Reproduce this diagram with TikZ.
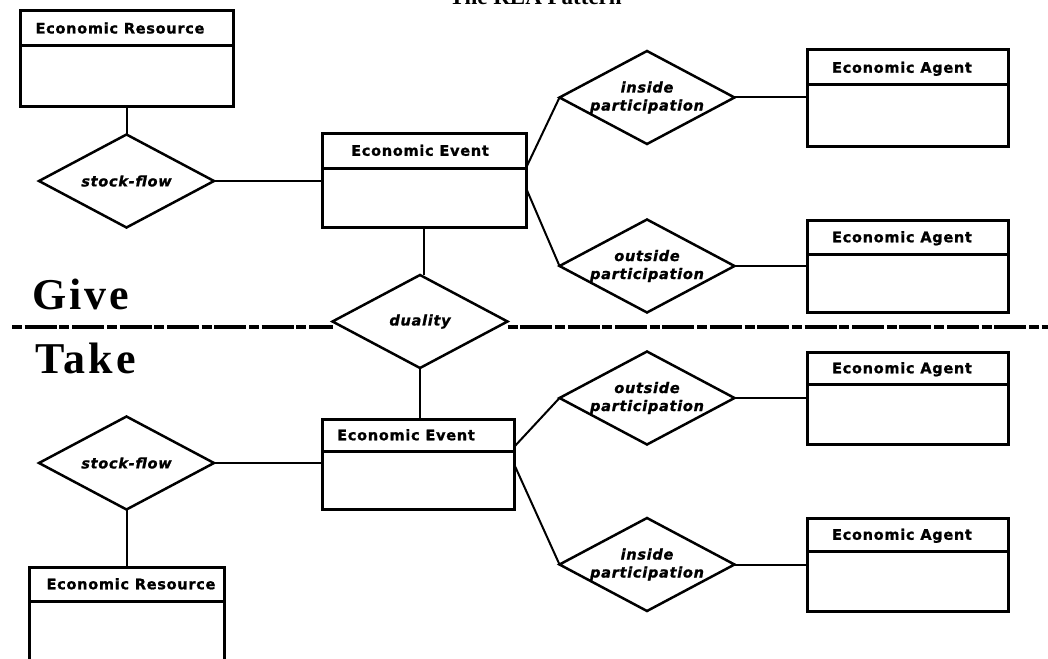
\documentclass[tikz,border=0pt]{standalone}
\usepackage{fontspec}
\setmainfont{Liberation Serif}
\newfontfamily\erfont[LetterSpace=5,
  BoldFeatures={FakeBold=1.2}, BoldItalicFeatures={FakeBold=1.2}]{DejaVu Sans}
\newfontfamily\sidefont[LetterSpace=7]{Liberation Serif}
\usetikzlibrary{shapes.geometric}

% entity box: name, left, top, right, bottom, divider y, label x, label
\newcommand\erbox[8]{%
  \node[entity, minimum width={(#4-#2)*1pt}, minimum height={(#5-#3)*1pt}]
    (#1) at ({(#2+#4)/2},{(#3+#5)/2}) {};
  \draw[entity line] (#2,#6) -- (#4,#6);
  \node[boxlabel] (#1-label) at (#7,{(#3+#6)/2}) {#8};
}

\tikzset{
  entity line/.style={line width=3pt},
  entity/.style={draw, rectangle, line width=3pt, inner sep=0pt, outer sep=0pt},
  relation/.style={draw, diamond, line width=2.5pt, inner sep=0pt, outer sep=0pt,
    aspect=1.88, minimum width=175pt, minimum height=93pt},
  link/.style={line width=2pt},
  boxlabel/.style={font=\erfont\bfseries\fontsize{14.5}{17}\selectfont,
    inner sep=0pt, text height=10.5pt, text depth=0pt},
  rellabel/.style={font=\erfont\bfseries\itshape\fontsize{14.5}{18}\selectfont,
    align=center, inner sep=0pt},
  divider/.style={line width=4.7pt, dash pattern=on 10pt off 2.7pt on 32pt off 2.7pt},
  side/.style={font=\sidefont\bfseries\fontsize{44}{48}\selectfont, inner sep=0pt, anchor=base west},
}

\begin{document}
\begin{tikzpicture}[x=1pt, y=-1pt]
\useasboundingbox (0,0) rectangle (1048,658);
\clip (0,0) rectangle (1048,658);

% title, running off the top edge
\node[font=\bfseries\fontsize{23}{26}\selectfont, inner sep=0pt, anchor=base] (title)
  at (535.5,4.5) {The REA Pattern};

% ---------- give side ----------
\erbox{resTop}{20}{10.7}{233}{107}{45.7}{120}{Economic Resource}
\erbox{evTop}{322}{133}{526}{227}{168}{420}{Economic Event}
\erbox{agA}{807}{50}{1008}{146}{85}{902}{Economic Agent}
\erbox{agB}{807}{220}{1008}{312}{254}{902}{Economic Agent}

\node[relation, label={[rellabel]center:stock-flow}] (sfTop) at (126.5,181) {};
\node[relation, label={[rellabel]center:{inside\\participation}}] (inTop) at (647,97.5) {};
\node[relation, label={[rellabel]center:{outside\\participation}}] (outTop) at (647,266) {};

% ---------- duality ----------
\node[relation, label={[rellabel]center:duality}] (duality) at (420,321.5) {};

% ---------- take side ----------
\erbox{evBot}{322}{419}{514}{509}{451}{406}{Economic Event}
\erbox{resBot}{29}{567}{224}{690}{601}{131}{Economic Resource}
\erbox{agC}{807}{352}{1008}{444}{384}{902}{Economic Agent}
\erbox{agD}{807}{518}{1008}{611}{551}{902}{Economic Agent}

\node[relation, label={[rellabel]center:stock-flow}] (sfBot) at (126.5,463) {};
\node[relation, label={[rellabel]center:{outside\\participation}}] (outBot) at (647,398) {};
\node[relation, label={[rellabel]center:{inside\\participation}}] (inBot) at (647,564.5) {};

% give / take separator
\coordinate (sepL) at (12,327);
\coordinate (sepR) at (1048,327);
\draw[divider] (sepL) -- (sepL -| duality.west);
\draw[divider] (sepR -| duality.east) -- (sepR);
\node[side] (give) at (32,309) {Give};
\node[side] (take) at (35,373) {Take};

% connectors, give side
\draw[link] (resTop.south -| sfTop.north) -- (sfTop.north);
\draw[link] (sfTop.east) -- (sfTop.east -| evTop.west);
\draw[link] ([yshift=12pt]evTop.east) -- (inTop.west);
\draw[link] ([yshift=-8pt]evTop.east) -- (outTop.west);
\draw[link] (inTop.east) -- (inTop.east -| agA.west);
\draw[link] (outTop.east) -- (outTop.east -| agB.west);
\draw[link] (evTop.south) -- (evTop.south |- duality.north);

% connectors, take side
\draw[link] (duality.south) -- (duality.south |- evBot.north);
\draw[link] (sfBot.east) -- (sfBot.east -| evBot.west);
\draw[link] (sfBot.south) -- (resBot.north);
\draw[link] ([yshift=17pt]evBot.east) -- (outBot.west);
\draw[link] (evBot.east) -- (inBot.west);
\draw[link] (outBot.east) -- (outBot.east -| agC.west);
\draw[link] (inBot.east) -- (inBot.east -| agD.west);
\end{tikzpicture}
\end{document}
